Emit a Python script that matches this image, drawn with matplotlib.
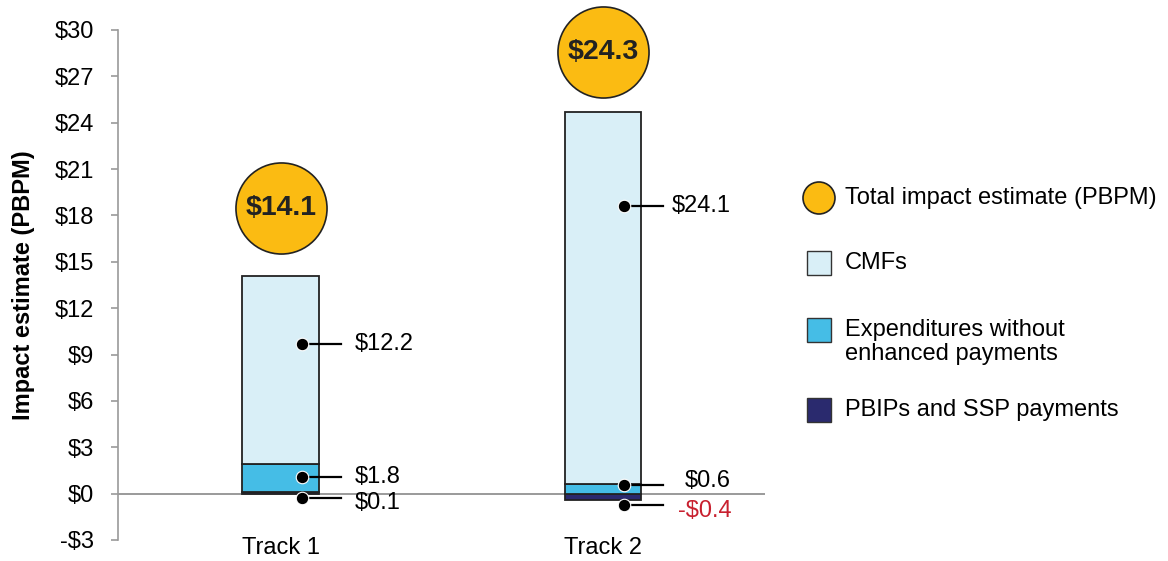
import matplotlib
matplotlib.use("Agg")
import matplotlib.pyplot as plt
from matplotlib.patches import Rectangle, Circle
import numpy as np

plt.rcParams['font.family'] = ['Liberation Sans', 'DejaVu Sans']

# data
tracks = ['Track 1', 'Track 2']
pbip = [0.1, -0.4]          # PBIPs and SSP payments
expend = [1.8, 0.6]         # Expenditures without enhanced payments
cmfs = [12.2, 24.1]         # CMFs
totals = [14.1, 24.3]
series_names = ['CMFs', 'Expenditures without\nenhanced payments', 'PBIPs and SSP payments']
yticks = np.arange(-3, 31, 3)

# where the callout dots / labels sit (y) and where the circles sit
dot_y = {'cmf': [9.7, 18.6], 'exp': [1.05, 0.55], 'pbip': [-0.3, -0.75]}
lab_y = {'cmf': [9.7, 18.6], 'exp': [1.1, 0.8], 'pbip': [-0.6, -1.15]}
circle_y = [18.5, 28.6]

c_cmf = '#D9EFF7'
c_exp = '#45BDE6'
c_pbip = '#2A2A6E'
c_gold = '#FBBB12'
edge = '#222222'
fs = 17

fig = plt.figure(figsize=(11.68, 5.61), dpi=100)
ax = fig.add_axes([118 / 1168, 1 - 540 / 561, 647 / 1168, 510 / 561])

x = np.arange(len(tracks))
w = 0.239

# stack positives from zero, negatives below zero
pos_bottom = np.zeros(len(tracks))
neg_bottom = np.zeros(len(tracks))
for vals, col in [(pbip, c_pbip), (expend, c_exp), (cmfs, c_cmf)]:
    vals = np.array(vals)
    bottoms = np.where(vals >= 0, pos_bottom, neg_bottom)
    ax.bar(x, vals, w, bottom=bottoms, color=col, edgecolor=edge, linewidth=1.3, zorder=3)
    pos_bottom = pos_bottom + np.where(vals >= 0, vals, 0)
    neg_bottom = neg_bottom + np.where(vals < 0, vals, 0)

ax.axhline(0, color='#9a9a9a', lw=1.4, zorder=1)

# total circles
ax.scatter(x, circle_y, s=4300, color=c_gold, edgecolor=edge, linewidth=1.2, zorder=4, clip_on=False)
for xi, cy, t in zip(x, circle_y, totals):
    ax.text(xi, cy, f'${t:.1f}', ha='center', va='center', fontsize=20.5,
            fontweight='bold', color='#222222', zorder=5)

# callouts
def money(v):
    return f'-${abs(v):.1f}' if v < 0 else f'${v:.1f}'

for i, xi in enumerate(x):
    for key, vals in [('cmf', cmfs), ('exp', expend), ('pbip', pbip)]:
        yv = dot_y[key][i]
        dx0 = xi + 0.066
        dx1 = xi + 0.185
        ax.plot([dx0, dx1], [yv, yv], color='black', lw=1.6, zorder=6)
        ax.plot(dx0, yv, 'o', ms=9, color='black', mec='white', mew=0.8, zorder=7)
        v = vals[i]
        col = '#C8202F' if v < 0 else 'black'
        ly = lab_y[key][i]
        if i == 0:
            ax.text(xi + 0.228, ly, money(v), ha='left', va='center', fontsize=fs, color=col)
        else:
            ax.text(xi + 0.398, ly, money(v), ha='right', va='center', fontsize=fs, color=col)

ax.set_xlim(-0.506, 1.503)
ax.set_ylim(-3, 30)
ax.set_yticks(yticks)
ax.set_yticklabels([money(v).replace('.0', '') for v in yticks], fontsize=fs)
ax.set_xticks(x)
ax.set_xticklabels(tracks, fontsize=fs)
ax.tick_params(axis='x', length=0, pad=-2)
ax.tick_params(axis='y', length=5, color='#9a9a9a', width=1.2, pad=12)
for s in ['top', 'right', 'bottom']:
    ax.spines[s].set_visible(False)
ax.spines['left'].set_color('#9a9a9a')
ax.spines['left'].set_linewidth(1.2)
ax.set_ylabel('Impact estimate (PBPM)', fontsize=fs, fontweight='bold', labelpad=14)

# legend drawn in pixel space on an overlay
lg = fig.add_axes([0, 0, 1, 1], zorder=10)
lg.set_xlim(0, 1168)
lg.set_ylim(561, 0)
lg.axis('off')
lg.add_patch(Circle((819, 198), 16, facecolor=c_gold, edgecolor=edge, lw=1.2))
lg.text(845, 198, 'Total impact estimate (PBPM)', va='center', fontsize=fs)
for (name, col, yc, ty) in zip(series_names, [c_cmf, c_exp, c_pbip], [263, 330, 410], [263, 342, 410]):
    lg.add_patch(Rectangle((807, yc - 12), 24, 24, facecolor=col, edgecolor='#333333', lw=1.0))
    lg.text(845, ty, name, va='center', fontsize=fs, linespacing=1.1)

fig.savefig('out.png', dpi=100)
